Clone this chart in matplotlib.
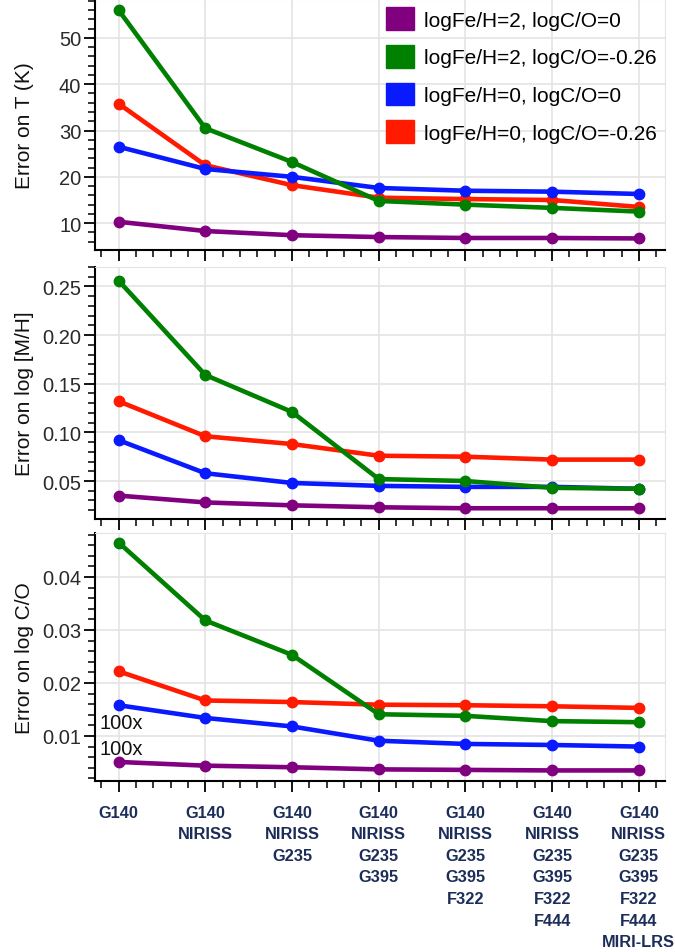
import matplotlib.pyplot as plt
from matplotlib.patches import Patch
from matplotlib.ticker import MultipleLocator

plt.rcParams["font.family"] = ["Liberation Sans", "DejaVu Sans"]

configs = ["G140", "G140\nNIRISS", "G140\nNIRISS\nG235", "G140\nNIRISS\nG235\nG395",
           "G140\nNIRISS\nG235\nG395\nF322", "G140\nNIRISS\nG235\nG395\nF322\nF444",
           "G140\nNIRISS\nG235\nG395\nF322\nF444\nMIRI-LRS"]
labels = ["logFe/H=2, logC/O=0", "logFe/H=2, logC/O=-0.26",
          "logFe/H=0, logC/O=0", "logFe/H=0, logC/O=-0.26"]
colors = ["#800080", "#008000", "#0a1aff", "#ff1a00"]

# error on T (K)
t_purple = [10.3, 8.3, 7.4, 7.0, 6.8, 6.8, 6.7]
t_green = [56.0, 30.5, 23.2, 14.8, 14.0, 13.3, 12.5]
t_blue = [26.5, 21.7, 20.0, 17.6, 17.0, 16.8, 16.3]
t_red = [35.8, 22.5, 18.2, 15.5, 15.2, 15.0, 13.5]

# error on log [M/H]
mh_purple = [0.035, 0.028, 0.025, 0.023, 0.022, 0.022, 0.022]
mh_green = [0.256, 0.159, 0.121, 0.052, 0.050, 0.043, 0.042]
mh_blue = [0.092, 0.058, 0.048, 0.045, 0.044, 0.044, 0.042]
mh_red = [0.132, 0.096, 0.088, 0.076, 0.075, 0.072, 0.072]

# error on log C/O (purple and blue shown x100)
co_purple = [0.0051, 0.0044, 0.0041, 0.0037, 0.0036, 0.0035, 0.0035]
co_green = [0.0465, 0.0318, 0.0253, 0.0141, 0.0138, 0.0128, 0.0126]
co_blue = [0.0158, 0.0134, 0.0118, 0.0091, 0.0085, 0.0083, 0.0080]
co_red = [0.0222, 0.0167, 0.0164, 0.0159, 0.0158, 0.0156, 0.0153]

panels = [
    ("Error on T (K)", [t_purple, t_green, t_blue, t_red], (4.2, 58.4), 10, 2),
    ("Error on log [M/H]", [mh_purple, mh_green, mh_blue, mh_red], (0.011, 0.270), 0.05, 0.01),
    ("Error on log C/O", [co_purple, co_green, co_blue, co_red], (0.0015, 0.0483), 0.01, 0.002),
]

fig = plt.figure(figsize=(6.75, 9.53), dpi=100)
boxes = [[0.141, 0.7366, 0.844, 0.2634],
         [0.141, 0.4544, 0.844, 0.2644],
         [0.141, 0.1794, 0.844, 0.2603]]

x = list(range(len(configs)))
axes = []
for box, (ylab, series, ylim, major, minor) in zip(boxes, panels):
    ax = fig.add_axes(box)
    for i in [3, 2, 1, 0]:
        ax.plot(x, series[i], color=colors[i], lw=3.3, marker="o", ms=7.5,
                solid_capstyle="round", zorder=3)
    ax.set_xlim(-0.27, 6.3)
    ax.set_ylim(*ylim)
    ax.xaxis.set_major_locator(MultipleLocator(1))
    ax.xaxis.set_minor_locator(MultipleLocator(0.2))
    ax.yaxis.set_major_locator(MultipleLocator(major))
    ax.yaxis.set_minor_locator(MultipleLocator(minor))
    ax.grid(True, which="major", color="#e4e4e4", lw=1.2, zorder=0)
    ax.set_axisbelow(True)
    for s in ["top", "right"]:
        ax.spines[s].set_color("#e4e4e4")
    for s in ["left", "bottom"]:
        ax.spines[s].set_linewidth(1.5)
    ax.tick_params(which="major", direction="out", length=8, width=1.3, pad=2,
                   labelsize=14.5, colors="black", labelcolor="#2a2a2a")
    ax.tick_params(which="minor", direction="out", length=5, width=1.1)
    ax.set_ylabel(ylab, fontsize=15, color="#111111")
    ax.yaxis.set_label_coords(-0.108, 0.5)
    ax.set_xticklabels([])
    axes.append(ax)

axes[1].yaxis.set_major_formatter(plt.FormatStrFormatter("%.2f"))
axes[2].yaxis.set_major_formatter(plt.FormatStrFormatter("%.2f"))

axes[2].set_xticks(x)
axes[2].set_xticklabels(configs, fontsize=11.8, fontweight="bold", color="#1c2d5a",
                        linespacing=1.55, va="top")
axes[2].tick_params(axis="x", pad=9)

axes[2].text(0.03, 0.01245, "100x", fontsize=14.5, ha="center", va="center", color="#111111")
axes[2].text(0.03, 0.00755, "100x", fontsize=14.5, ha="center", va="center", color="#111111")

handles = [Patch(facecolor=c, edgecolor=c) for c in colors]
axes[0].legend(handles, labels, loc="upper right", fontsize=15, frameon=False,
               handlelength=1.35, handleheight=1.3, labelspacing=0.72,
               handletextpad=0.45, borderpad=0.1, borderaxespad=0.3)

fig.savefig("out.png", dpi=100)
